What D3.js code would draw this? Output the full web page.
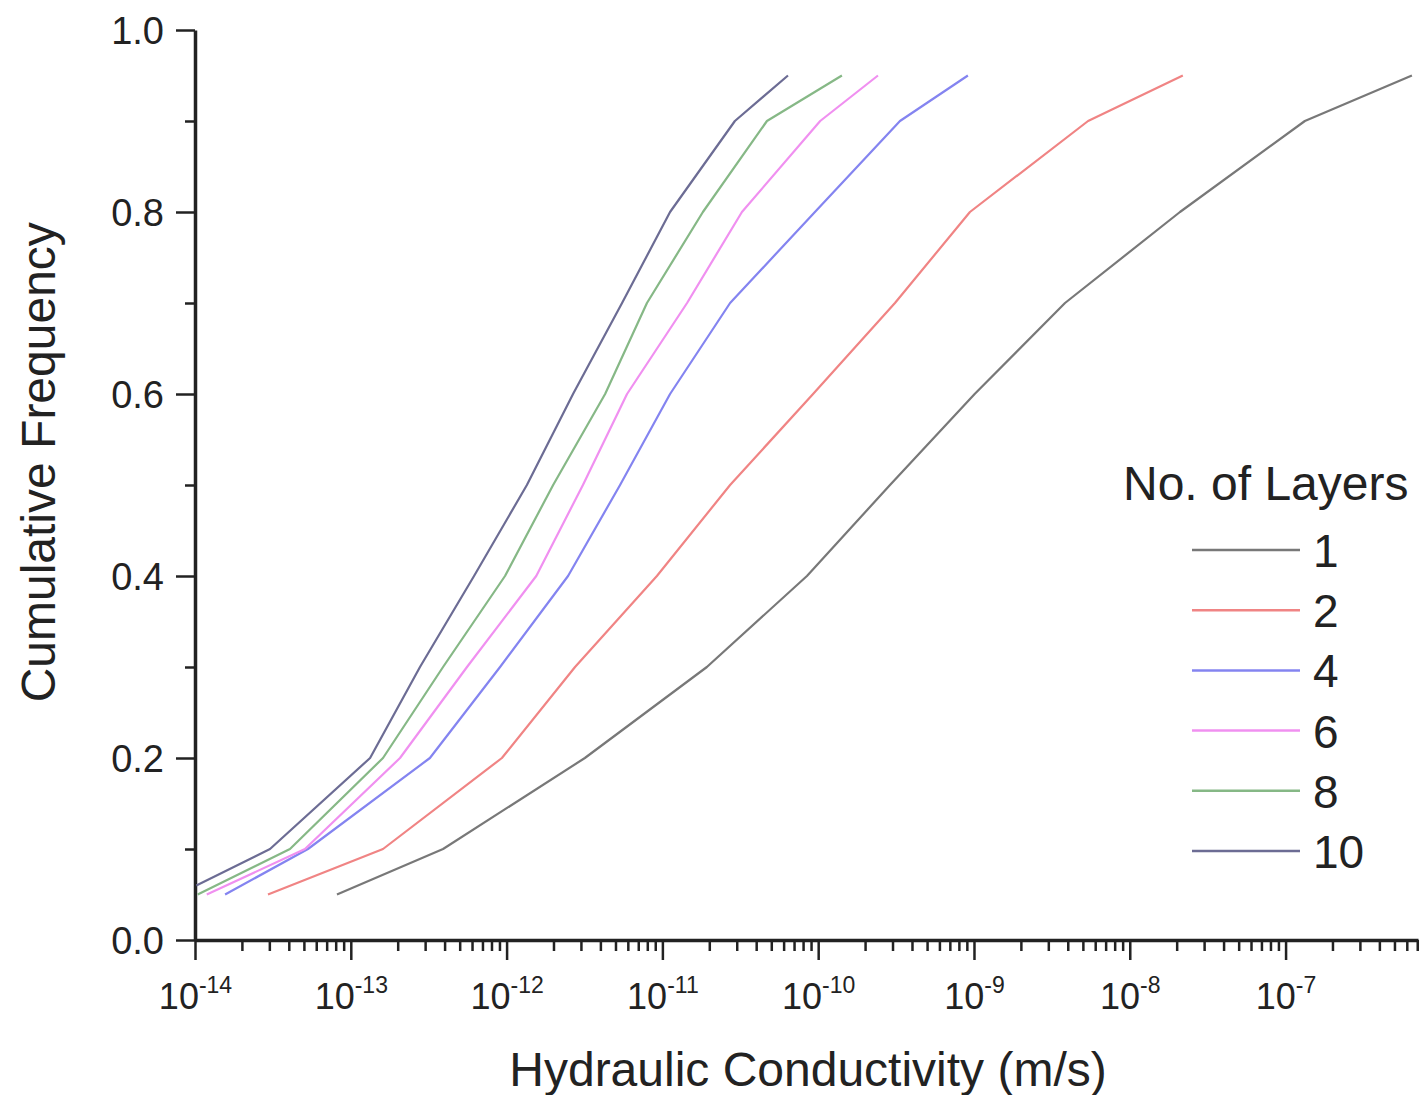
<!DOCTYPE html>
<html>
<head>
<meta charset="utf-8">
<script src="https://cdn.jsdelivr.net/npm/d3@7"></script>
<style>
  body { margin: 0; background: #fff; }
  text { font-family: "Liberation Sans", Arial, sans-serif; fill: #222; }
</style>
</head>
<body>
<div id="chart"></div>
<script>
// Cumulative frequency levels
const freq = [0.05, 0.1, 0.2, 0.3, 0.4, 0.5, 0.6, 0.7, 0.8, 0.9, 0.95];
const freq10 = [0.06, 0.1, 0.2, 0.3, 0.4, 0.5, 0.6, 0.7, 0.8, 0.9, 0.95];

// Hydraulic conductivity (m/s) for each number of layers
const k1  = [8.15e-14, 3.91e-13, 3.18e-12, 1.93e-11, 8.47e-11, 2.89e-10, 1.01e-9, 3.84e-9, 2.10e-8, 1.33e-7, 6.47e-7];
const k2  = [2.94e-14, 1.61e-13, 9.33e-13, 2.75e-12, 9.22e-12, 2.72e-11, 9.27e-11, 3.11e-10, 9.42e-10, 5.40e-9, 2.19e-8];
const k4  = [1.56e-14, 5.31e-14, 3.22e-13, 9.08e-13, 2.48e-12, 5.35e-12, 1.12e-11, 2.72e-11, 9.53e-11, 3.35e-10, 9.14e-10];
const k6  = [1.19e-14, 5.08e-14, 2.07e-13, 5.57e-13, 1.55e-12, 3.09e-12, 5.93e-12, 1.44e-11, 3.24e-11, 1.03e-10, 2.42e-10];
const k8  = [1.04e-14, 4.07e-14, 1.61e-13, 3.91e-13, 9.77e-13, 1.99e-12, 4.29e-12, 7.96e-12, 1.82e-11, 4.69e-11, 1.42e-10];
const k10 = [1.02e-14, 3.03e-14, 1.33e-13, 2.78e-13, 6.18e-13, 1.35e-12, 2.67e-12, 5.51e-12, 1.12e-11, 2.92e-11, 6.40e-11];

const layers = ["1", "2", "4", "6", "8", "10"];
const colors = ["#787878", "#f08484", "#8484f0", "#f090f0", "#86b886", "#6c6c94"];

const series = [
  {name: "1", k: k1, f: freq},
  {name: "2", k: k2, f: freq},
  {name: "4", k: k4, f: freq},
  {name: "6", k: k6, f: freq},
  {name: "8", k: k8, f: freq},
  {name: "10", k: k10, f: freq10}
];

const yTicks = [0, 0.1, 0.2, 0.3, 0.4, 0.5, 0.6, 0.7, 0.8, 0.9, 1.0];
const decades = [-14, -13, -12, -11, -10, -9, -8, -7, -6];

const W = 1424, H = 1095;
const margin = {top: 30, right: 6, bottom: 155, left: 195};

const svg = d3.select("#chart")
    .append("svg")
    .attr("width", W)
    .attr("height", H);

const x = d3.scaleLog()
    .domain([1e-14, 7.08e-7])
    .range([margin.left, W - margin.right]);

const y = d3.scaleLinear()
    .domain([0, 1])
    .range([H - margin.bottom, margin.top]);

const color = d3.scaleOrdinal().domain(layers).range(colors);

// x ticks: 1..9 per decade
const xTicks = [];
decades.forEach(e => {
    for (let m = 1; m <= 9; m++) {
        const v = m * Math.pow(10, e);
        if (v <= x.domain()[1] * 1.0001) xTicks.push(v);
    }
});
const isMajor = v => Math.abs(Math.log10(v) - Math.round(Math.log10(v))) < 1e-6;

// X axis
const gx = svg.append("g")
    .attr("transform", `translate(0,${y(0)})`)
    .call(d3.axisBottom(x).tickValues(xTicks).tickFormat("").tickSizeOuter(0));
gx.select(".domain").attr("stroke", "#222").attr("stroke-width", 3.5);
gx.selectAll(".tick line")
    .attr("stroke", "#222")
    .attr("stroke-width", 2.5)
    .attr("y2", d => isMajor(d) ? 20 : 11);

gx.selectAll(".tick")
    .filter(d => isMajor(d))
    .append("text")
    .attr("y", 69)
    .attr("text-anchor", "middle")
    .attr("fill", "#222")
    .style("font-size", "36px")
    .each(function(d) {
        const t = d3.select(this);
        t.append("tspan").text("10");
        t.append("tspan")
            .attr("dy", -16)
            .style("font-size", "23px")
            .text(String(Math.round(Math.log10(d))));
    });

// Y axis
const gy = svg.append("g")
    .attr("transform", `translate(${x(1e-14)},0)`)
    .call(d3.axisLeft(y).tickValues(yTicks).tickSizeOuter(0)
        .tickFormat(d => Math.round(d * 10) % 2 === 0 ? d3.format(".1f")(d) : ""));
gy.select(".domain").attr("stroke", "#222").attr("stroke-width", 3.5);
gy.selectAll(".tick line")
    .attr("stroke", "#222")
    .attr("stroke-width", 2.5)
    .attr("x2", d => Math.round(d * 10) % 2 === 0 ? -19 : -10);
gy.selectAll(".tick text")
    .attr("x", -31)
    .attr("dy", "0.36em")
    .attr("fill", "#222")
    .style("font-size", "38px");

// Lines
const line = d3.line()
    .x(d => x(d[0]))
    .y(d => y(d[1]));

svg.selectAll(".series")
    .data(series)
    .enter()
    .append("path")
    .attr("class", "series")
    .attr("fill", "none")
    .attr("stroke", d => color(d.name))
    .attr("stroke-width", 2.2)
    .attr("stroke-linejoin", "round")
    .attr("d", d => line(d.k.map((v, i) => [v, d.f[i]])));

// Axis titles
svg.append("text")
    .attr("transform", `translate(38,${y(0.525)}) rotate(-90)`)
    .attr("text-anchor", "middle")
    .attr("dy", "0.35em")
    .style("font-size", "48px")
    .text("Cumulative Frequency");

svg.append("text")
    .attr("x", 808)
    .attr("y", 1086)
    .attr("text-anchor", "middle")
    .style("font-size", "48px")
    .text("Hydraulic Conductivity (m/s)");

// Legend
const legend = svg.append("g");
legend.append("text")
    .attr("x", 1123)
    .attr("y", 500)
    .style("font-size", "48px")
    .text("No. of Layers");

const legendY = d3.scalePoint().domain(layers).range([550, 851]);
const item = legend.selectAll(".item")
    .data(layers)
    .enter()
    .append("g")
    .attr("class", "item")
    .attr("transform", d => `translate(0,${legendY(d)})`);
item.append("line")
    .attr("x1", 1192)
    .attr("x2", 1300)
    .attr("stroke", d => color(d))
    .attr("stroke-width", 2.5);
item.append("text")
    .attr("x", 1313)
    .attr("y", 17)
    .style("font-size", "46px")
    .text(d => d);
</script>
</body>
</html>
